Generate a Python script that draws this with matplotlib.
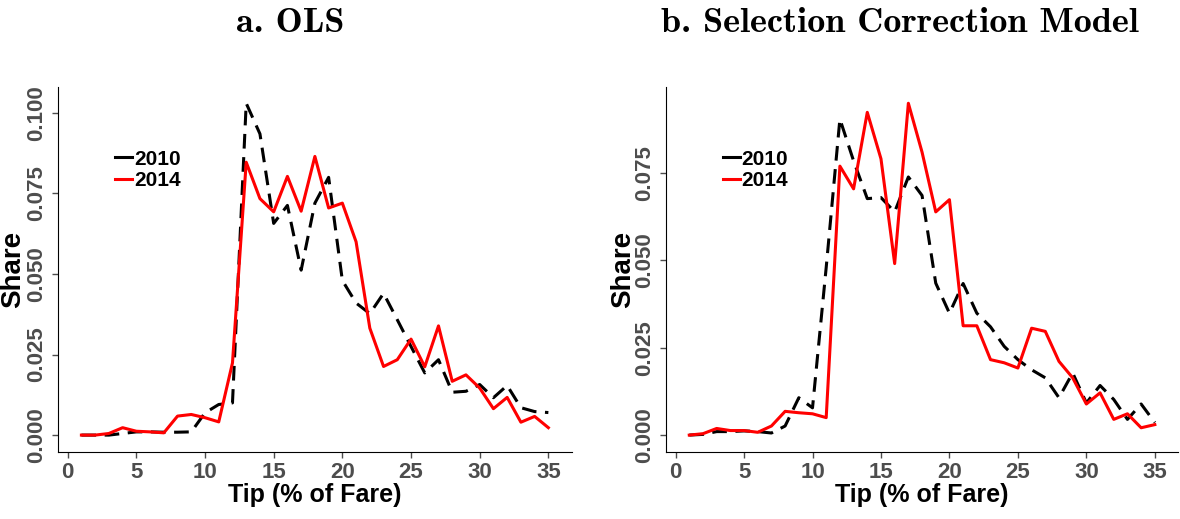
import matplotlib.pyplot as plt
from matplotlib.lines import Line2D

# tip share by tip percentage
tip = list(range(1, 36))

ols_2010 = [0.0, 0.0, 0.0, 0.0005, 0.001, 0.001, 0.0009, 0.0009, 0.001, 0.0069,
            0.0095, 0.0100, 0.1030, 0.0935, 0.0657, 0.0713, 0.0512, 0.0720, 0.0800, 0.0480,
            0.0410, 0.0377, 0.0440, 0.0358, 0.0275, 0.0193, 0.0234, 0.0133, 0.0136, 0.0157,
            0.0116, 0.0154, 0.0085, 0.0073, 0.0070]
ols_2014 = [0.0, 0.0, 0.0005, 0.0023, 0.0012, 0.0010, 0.0007, 0.0059, 0.0064, 0.0054,
            0.0041, 0.0224, 0.0847, 0.0734, 0.0693, 0.0803, 0.0695, 0.0865, 0.0705, 0.0720,
            0.0600, 0.0332, 0.0213, 0.0234, 0.0298, 0.0212, 0.0339, 0.0167, 0.0187, 0.0146,
            0.0082, 0.0117, 0.0040, 0.0058, 0.0023]

scm_2010 = [0.0, 0.0002, 0.0010, 0.0010, 0.0012, 0.0010, 0.0006, 0.0026, 0.0107, 0.0078,
            0.0480, 0.0905, 0.0785, 0.0677, 0.0680, 0.0639, 0.0739, 0.0686, 0.0435, 0.0349,
            0.0434, 0.0349, 0.0310, 0.0254, 0.0216, 0.0187, 0.0164, 0.0107, 0.0178, 0.0092,
            0.0142, 0.0102, 0.0045, 0.0089, 0.0036]
scm_2014 = [0.0, 0.0004, 0.0019, 0.0013, 0.0013, 0.0008, 0.0026, 0.0068, 0.0064, 0.0061,
            0.0050, 0.0770, 0.0705, 0.0924, 0.0791, 0.0491, 0.0950, 0.0810, 0.0639, 0.0674,
            0.0313, 0.0313, 0.0216, 0.0207, 0.0192, 0.0306, 0.0297, 0.0211, 0.0164, 0.0089,
            0.0121, 0.0045, 0.0061, 0.0021, 0.0030]

panels = [("a. OLS", ols_2010, ols_2014, [0.0, 0.025, 0.05, 0.075, 0.1]),
          ("b. Selection Correction Model", scm_2010, scm_2014, [0.0, 0.025, 0.05, 0.075])]
xticks = [0, 5, 10, 15, 20, 25, 30, 35]

plt.rcParams['font.family'] = ['Liberation Sans', 'DejaVu Sans']

fig = plt.figure(figsize=(11.8, 5.19), dpi=100)
ax_pos = [[0.0492, 0.1297, 0.4353, 0.7033], [0.5644, 0.1297, 0.434, 0.7033]]
title_x = [0.246, 0.763]
leg_pos = [(0.095, 0.85), (0.095, 0.85)]
ylab_x = [-0.088, -0.084]

for i, (title, y10, y14, yticks) in enumerate(panels):
    ax = fig.add_axes(ax_pos[i])
    ax.plot(tip, y10, color='black', lw=2.2, dashes=(4.8, 2.8))
    ax.plot(tip, y14, color='red', lw=2.2)

    ymax = max(max(y10), max(y14))
    pad = ymax * 0.05
    ax.set_xlim(1 - 1.7, 35 + 1.7)
    ax.set_ylim(-pad, ymax + pad)

    ax.set_xticks(xticks)
    ax.set_yticks(yticks)
    ax.set_yticklabels(['%.3f' % v for v in yticks], rotation=90, va='center')
    ax.tick_params(labelsize=16, colors='#4d4d4d', length=4, width=1)
    ax.tick_params(axis='y', pad=4)
    for lab in ax.get_xticklabels() + ax.get_yticklabels():
        lab.set_fontweight('bold')
    ax.spines['top'].set_visible(False)
    ax.spines['right'].set_visible(False)
    ax.spines['left'].set_color('black')
    ax.spines['bottom'].set_color('black')

    ax.set_xlabel('Tip (% of Fare)', fontsize=18, fontweight='bold', labelpad=0)
    ax.set_ylabel('Share', fontsize=20, fontweight='bold', va='center')
    ax.yaxis.set_label_coords(ylab_x[i], 0.5)

    handles = [Line2D([], [], color='black', lw=2.2), Line2D([], [], color='red', lw=2.2)]
    ax.legend(handles, ['2010', '2014'], loc='upper left', bbox_to_anchor=leg_pos[i],
              frameon=False, prop={'size': 15, 'weight': 'bold'}, handlelength=0.8,
              handletextpad=0.1, labelspacing=0.1, borderaxespad=0)

    fig.text(title_x[i], 0.955, title, ha='center', va='center',
             fontsize=26, family='cmb10')

fig.savefig('out.png', dpi=100)
